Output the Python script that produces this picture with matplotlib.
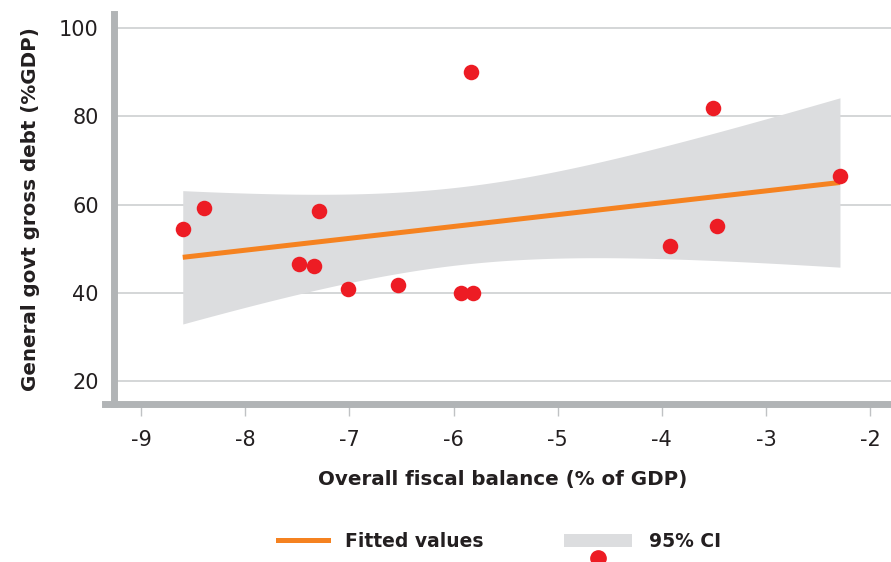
import numpy as np
import matplotlib
matplotlib.use("Agg")
import matplotlib.pyplot as plt
from matplotlib.lines import Line2D
from matplotlib.patches import Patch
from matplotlib.legend_handler import HandlerLine2D

# fiscal balance vs gross debt
balance = [-8.6, -8.4, -7.48, -7.34, -7.29, -7.01, -6.53, -5.93, -5.81, -5.83,
           -3.92, -3.51, -3.47, -2.29]
debt = [54.5, 59.3, 46.6, 46.1, 58.6, 40.9, 41.8, 40.0, 40.0, 90.0,
        50.7, 82.0, 55.2, 66.4]
yticks = [20, 40, 60, 80, 100]
xticks = [-9, -8, -7, -6, -5, -4, -3, -2]

# linear fit with 95% confidence band (like stata lfitci)
x = np.array(balance)
y = np.array(debt)
n = len(x)
slope, icpt = np.polyfit(x, y, 1)
resid = y - (slope * x + icpt)
s = np.sqrt(np.sum(resid ** 2) / (n - 2))
sxx = np.sum((x - x.mean()) ** 2)
tcrit = 2.179  # t(0.975, df=12)
xg = np.linspace(x.min(), x.max(), 100)
yg = slope * xg + icpt
half = tcrit * s * np.sqrt(1.0 / n + (xg - x.mean()) ** 2 / sxx)

plt.rcParams['font.family'] = ['DejaVu Sans']
grey = '#b1b4b6'
txt = '#231f20'

fig = plt.figure(figsize=(8.91, 5.62), dpi=100)
ax = fig.add_axes([114 / 891, 1 - 404 / 562, 1 - 114 / 891, 390 / 562])

ax.fill_between(xg, yg - half, yg + half, color='#dcdddf', lw=0, zorder=1)
ax.plot(xg, yg, color='#f58220', lw=3.6, solid_capstyle='butt', zorder=2)
ax.scatter(x, y, s=125, color='#ed1c24', lw=0, zorder=3)

ax.set_xlim(-9.26, -1.80)
ax.set_ylim(14.8, 103.2)
ax.set_xticks(xticks)
ax.set_xticklabels([str(v) for v in xticks])
ax.set_yticks(yticks)
ax.set_yticklabels([str(v) for v in yticks])

for v in yticks:
    ax.axhline(v, color='#c9cbcd', lw=1.1, zorder=0)

for sp in ['top', 'right']:
    ax.spines[sp].set_visible(False)
for sp in ['left', 'bottom']:
    ax.spines[sp].set_color(grey)
    ax.spines[sp].set_linewidth(5)
ax.spines['bottom'].set_bounds(-9.346, -1.80)

ax.tick_params(axis='x', length=8.5, width=1, color='#c0c2c4', pad=10.5,
               labelsize=15, labelcolor=txt)
ax.tick_params(axis='y', length=0, pad=11, labelsize=15, labelcolor=txt)

ax.set_xlabel('Overall fiscal balance (% of GDP)', fontsize=14.3,
              fontweight='bold', color=txt, labelpad=14)
ax.set_ylabel('General govt gross debt (%GDP)', fontsize=14.3,
              fontweight='bold', color=txt, labelpad=14)

fit_h = Line2D([], [], color='#f58220', lw=3.6)
handles = [fit_h,
           Line2D([], [], lw=0),
           Patch(color='#dcdddf', lw=0),
           Line2D([], [], marker='o', ls='', color='#ed1c24', ms=11)]
labels = ['Fitted values', '', '95% CI', '']
leg = fig.legend(handles, labels, ncol=2, loc='upper left',
                 bbox_to_anchor=(260 / 891, 1 - 532 / 562), frameon=False,
                 prop={'weight': 'bold', 'size': 13.5},
                 handlelength=3.63, columnspacing=4.3, labelspacing=-0.1,
                 handletextpad=0.9, borderpad=0, borderaxespad=0,
                 handler_map={fit_h: HandlerLine2D(xpad=0.95)})
for t in leg.get_texts():
    t.set_color(txt)

fig.savefig('out.png', dpi=100)
